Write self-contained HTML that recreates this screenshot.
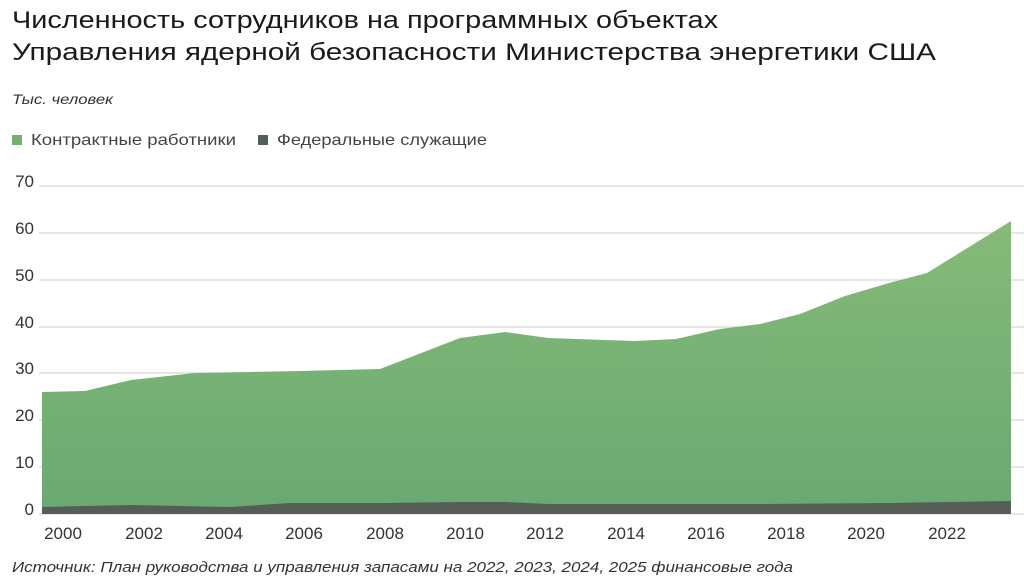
<!DOCTYPE html>
<html><head><meta charset="utf-8"><style>
body{margin:0;background:#fff;width:1024px;height:580px;overflow:hidden;font-family:"Liberation Sans",sans-serif;color:#222}
</style></head><body>
<svg width="1024" height="580" xmlns="http://www.w3.org/2000/svg" font-family="Liberation Sans, sans-serif">
<defs><linearGradient id="g" x1="0" y1="0" x2="0" y2="1"><stop offset="0" stop-color="#86ba78"/><stop offset="1" stop-color="#69a972"/></linearGradient></defs>
<text x="12" y="28" font-size="24" fill="#1a1a1a" textLength="706" lengthAdjust="spacingAndGlyphs">Численность сотрудников на программных объектах</text>
<text x="12" y="60" font-size="24" fill="#1a1a1a" textLength="924" lengthAdjust="spacingAndGlyphs">Управления ядерной безопасности Министерства энергетики США</text>
<text x="12" y="104" font-size="14" font-style="italic" fill="#333" textLength="101" lengthAdjust="spacingAndGlyphs">Тыс. человек</text>
<rect x="12" y="135" width="10" height="10" fill="#74b06f"/>
<text x="31" y="145" font-size="16" fill="#444" textLength="205" lengthAdjust="spacingAndGlyphs">Контрактные работники</text>
<rect x="258" y="135" width="10" height="10" fill="#555d57"/>
<text x="277" y="145" font-size="16" fill="#444" textLength="210" lengthAdjust="spacingAndGlyphs">Федеральные служащие</text>
<g stroke="#d6d6d6" stroke-width="1.3">
<line x1="39" x2="1024" y1="186" y2="186"/><line x1="39" x2="1024" y1="233" y2="233"/><line x1="39" x2="1024" y1="280" y2="280"/><line x1="39" x2="1024" y1="327" y2="327"/><line x1="39" x2="1024" y1="373" y2="373"/><line x1="39" x2="1024" y1="420" y2="420"/><line x1="39" x2="1024" y1="467" y2="467"/><line x1="39" x2="1024" y1="514" y2="514"/>
</g>
<g font-size="17" fill="#333" text-anchor="end">
<text x="34" y="187">70</text><text x="34" y="234">60</text><text x="34" y="281">50</text><text x="34" y="328">40</text><text x="34" y="374">30</text><text x="34" y="421">20</text><text x="34" y="468">10</text><text x="34" y="515">0</text>
</g>
<polygon fill="url(#g)" points="42,392 85,391 131,380 195,373 300,371 380,369 460,338 505,332 548,338 634,341 676,339 720,329 760,324 800,314 845,296 889,283 927,273 1011,221 1011,514 42,514"/>
<polygon fill="#555d57" points="42,507 85,506 131,505 180,506 230,507 290,503 380,503 460,502 505,502 548,504 634,504 760,504 889,503 1011,501 1011,514 42,514"/>
<g font-size="17" fill="#333" text-anchor="middle">
<text x="63" y="539">2000</text><text x="144" y="539">2002</text><text x="224" y="539">2004</text><text x="304" y="539">2006</text><text x="385" y="539">2008</text><text x="465" y="539">2010</text><text x="545" y="539">2012</text><text x="626" y="539">2014</text><text x="706" y="539">2016</text><text x="786" y="539">2018</text><text x="866" y="539">2020</text><text x="947" y="539">2022</text>
</g>
<text x="12" y="572" font-size="15" font-style="italic" fill="#333" textLength="781" lengthAdjust="spacingAndGlyphs">Источник: План руководства и управления запасами на 2022, 2023, 2024, 2025 финансовые года</text>
</svg>
</body></html>
